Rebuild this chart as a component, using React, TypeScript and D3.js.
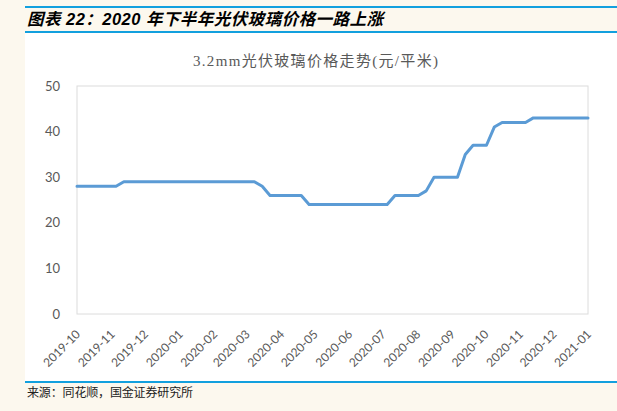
import React from "react";
import * as d3 from "d3";

const dates = [
  "2019-10-01", "2019-10-08", "2019-10-15", "2019-10-22", "2019-10-29", "2019-11-05",
  "2019-11-12", "2019-11-19", "2019-11-26", "2019-12-03", "2019-12-10", "2019-12-17",
  "2019-12-24", "2019-12-31", "2020-01-07", "2020-01-14", "2020-01-21", "2020-02-02",
  "2020-02-09", "2020-02-16", "2020-02-23", "2020-03-01", "2020-03-08", "2020-03-15",
  "2020-03-22", "2020-03-29", "2020-04-05", "2020-04-12", "2020-04-19", "2020-04-26",
  "2020-05-03", "2020-05-10", "2020-05-17", "2020-05-24", "2020-05-31", "2020-06-07",
  "2020-06-14", "2020-06-21", "2020-06-28", "2020-07-05", "2020-07-12", "2020-07-19",
  "2020-07-26", "2020-08-02", "2020-08-09", "2020-08-16", "2020-08-23", "2020-08-30",
  "2020-09-06", "2020-09-13", "2020-09-20", "2020-10-02", "2020-10-09", "2020-10-16",
  "2020-10-23", "2020-10-30", "2020-11-06", "2020-11-13", "2020-11-20", "2020-11-27",
  "2020-12-04", "2020-12-11", "2020-12-18", "2020-12-25", "2021-01-01",
];

const prices = [
  28, 28, 28, 28, 28, 28,
  29, 29, 29, 29, 29, 29,
  29, 29, 29, 29, 29, 29,
  29, 29, 29, 29, 29, 28,
  26, 26, 26, 26, 26, 24,
  24, 24, 24, 24, 24, 24,
  24, 24, 24, 24, 26, 26,
  26, 26, 27, 30, 30, 30,
  30, 35, 37, 37, 41, 42,
  42, 42, 42, 43, 43, 43,
  43, 43, 43, 43, 43,
];

const xTickLabels = [
  "2019-10", "2019-11", "2019-12", "2020-01", "2020-02", "2020-03", "2020-04", "2020-05",
  "2020-06", "2020-07", "2020-08", "2020-09", "2020-10", "2020-11", "2020-12", "2021-01",
];

const yTicks = [0, 10, 20, 30, 40, 50];

const pageTitle = "图表 22：2020 年下半年光伏玻璃价格一路上涨";
const chartTitle = "3.2mm光伏玻璃价格走势(元/平米)";
const sourceNote = "来源：同花顺，国金证券研究所";

const W = 617;
const H = 411;
const plot = { left: 77, right: 588, top: 86, bottom: 314 };

export default function App() {
  const parseDay = d3.timeParse("%Y-%m-%d");
  const parseMonth = d3.timeParse("%Y-%m");
  const data = dates.map((d, i) => ({ date: parseDay(d) as Date, value: prices[i] }));

  const x = d3
    .scaleTime()
    .domain([parseMonth(xTickLabels[0]) as Date, parseMonth(xTickLabels[xTickLabels.length - 1]) as Date])
    .range([plot.left, plot.right]);
  const y = d3.scaleLinear().domain([0, 50]).range([plot.bottom, plot.top]);

  const line = d3
    .line<{ date: Date; value: number }>()
    .x((d) => x(d.date))
    .y((d) => y(d.value));

  const labelFont = "Lato, 'Open Sans', sans-serif";

  return (
    <svg
      width={W}
      height={H}
      style={{ position: "absolute", left: 0, top: 0, display: "block" }}
    >
      <rect x={0} y={0} width={W} height={H} fill="#FCF8EE" />
      <rect x={25} y={33} width={W - 25} height={348} fill="#FFFFFF" />
      <line x1={25} x2={W} y1={7} y2={7} stroke="#12A0DE" strokeWidth={2} />
      <line x1={25} x2={W} y1={32} y2={32} stroke="#12A0DE" strokeWidth={2} />
      <line x1={25} x2={W} y1={382} y2={382} stroke="#12A0DE" strokeWidth={2} />

      <text
        x={27}
        y={25}
        fontFamily="'Liberation Sans', 'Noto Sans CJK SC', sans-serif"
        fontWeight="bold"
        fontStyle="italic"
        fontSize={16.5}
        fill="#000"
        textLength={356}
        lengthAdjust="spacing"
      >
        {pageTitle}
      </text>

      <text
        x={315.5}
        y={66}
        textAnchor="middle"
        fontFamily="'Liberation Serif', 'Noto Sans CJK SC', serif"
        fontSize={15}
        fill="#595959"
        textLength={245}
        lengthAdjust="spacing"
      >
        {chartTitle}
      </text>

      <rect
        x={plot.left}
        y={plot.top}
        width={plot.right - plot.left}
        height={plot.bottom - plot.top}
        fill="none"
        stroke="#DCDCDC"
        strokeWidth={1}
      />

      {yTicks.map((t) => (
        <text
          key={t}
          x={60}
          y={y(t)}
          dy="0.35em"
          textAnchor="end"
          fontFamily={labelFont}
          fontSize={13}
          fill="#595959"
        >
          {t}
        </text>
      ))}

      {xTickLabels.map((lab) => {
        const px = x(parseMonth(lab) as Date);
        return (
          <text
            key={lab}
            transform={`translate(${px + 1},${plot.bottom + 18}) rotate(-45)`}
            dy="0.35em"
            textAnchor="end"
            fontFamily={labelFont}
            fontSize={12}
            fill="#595959"
          >
            {lab}
          </text>
        );
      })}

      <path
        d={line(data) || ""}
        fill="none"
        stroke="#5B9BD5"
        strokeWidth={3}
        strokeLinejoin="round"
        strokeLinecap="round"
      />

      <text
        x={27}
        y={397}
        fontFamily="'Noto Sans CJK SC', serif"
        fontSize={12}
        fill="#222"
        textLength={166}
        lengthAdjust="spacing"
      >
        {sourceNote}
      </text>
    </svg>
  );
}
